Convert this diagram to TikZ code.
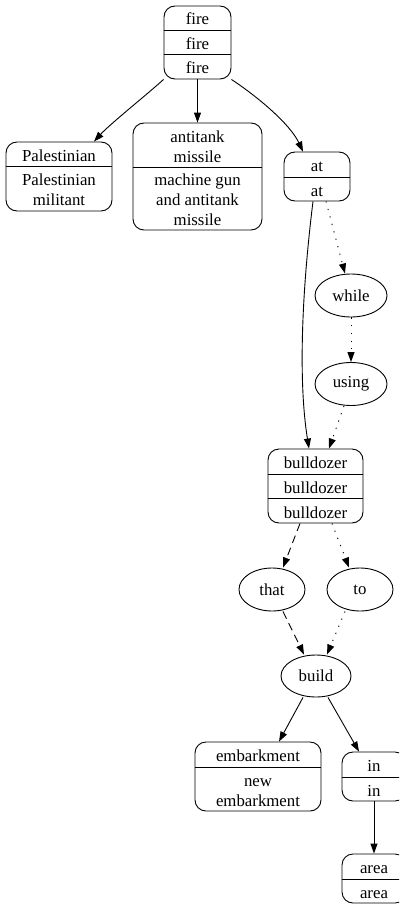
\documentclass[tikz,border=0pt]{standalone}
\usepackage{fontspec}
\setmainfont{Liberation Serif}
\usetikzlibrary{arrows.meta,shapes.geometric}
\begin{document}
\begin{tikzpicture}[x=1pt,y=-1pt,
  rec/.style={draw, rounded corners=11pt, inner sep=0pt, line width=0.9pt},
  ell/.style={draw, ellipse, inner sep=0pt, line width=0.9pt, font=\fontsize{16.8}{20}\selectfont},
  lbl/.style={inner sep=0pt, align=center, text height=15pt, text depth=1pt, font=\fontsize{16.8}{20}\selectfont},
  sep/.style={line width=0.9pt},
  edge/.style={line width=0.9pt, -{Triangle[length=10pt,width=7pt]}},
  dot/.style={edge, dash pattern=on 1.2pt off 6.5pt},
  dsh/.style={edge, dash pattern=on 8pt off 5pt}]
\useasboundingbox (0,0) rectangle (399,907);
\clip (0,0) rectangle (399,907);

% fire
\node[rec, minimum width=67pt, minimum height=73pt] (fire) at (197.5,42.5) {};
\draw[sep] (fire.west |- 0,30) -- (fire.east |- 0,30);
\draw[sep] (fire.west |- 0,54) -- (fire.east |- 0,54);
\node[lbl] (fireA) at (197.5,18) {fire};
\node[lbl] (fireB) at (197.5,42) {fire};
\node[lbl] (fireC) at (197.5,66.5) {fire};

% Palestinian
\node[rec, minimum width=106pt, minimum height=69pt] (pal) at (59,176.5) {};
\draw[sep] (pal.west |- 0,166) -- (pal.east |- 0,166);
\node[lbl] (palA) at (59,154) {Palestinian};
\node[lbl] (palB) at (59,198.5) {Palestinian\\militant};

% antitank missile
\node[rec, minimum width=129pt, minimum height=107pt] (anti) at (197.5,176.5) {};
\draw[sep] (anti.west |- 0,167) -- (anti.east |- 0,167);
\node[lbl] (antiA) at (197.5,155) {antitank\\missile};
\node[lbl] (antiB) at (197.5,218.5) {machine gun\\and antitank\\missile};

% at
\node[rec, minimum width=66pt, minimum height=49pt] (at) at (317,176.5) {};
\draw[sep] (at.west |- 0,177) -- (at.east |- 0,177);
\node[lbl] (atA) at (317,164.5) {at};
\node[lbl] (atB) at (317,189) {at};

% while, using
\node[ell, minimum width=72pt, minimum height=43pt] (while) at (351,295.5) {while};
\node[ell, minimum width=72pt, minimum height=43pt] (using) at (351,384) {using};

% bulldozer
\node[rec, minimum width=95pt, minimum height=74pt] (bull) at (315.5,486) {};
\draw[sep] (bull.west |- 0,474) -- (bull.east |- 0,474);
\draw[sep] (bull.west |- 0,498.5) -- (bull.east |- 0,498.5);
\node[lbl] (bullA) at (315.5,461.5) {bulldozer};
\node[lbl] (bullB) at (315.5,486) {bulldozer};
\node[lbl] (bullC) at (315.5,511) {bulldozer};

% that, to, build
\node[ell, minimum width=66pt, minimum height=43pt] (that) at (272,589.5) {that};
\node[ell, minimum width=66pt, minimum height=43pt] (to) at (360,589.5) {to};
\node[ell, minimum width=70pt, minimum height=42pt] (build) at (316,676) {build};

% embarkment
\node[rec, minimum width=126pt, minimum height=69pt] (emb) at (258,776.5) {};
\draw[sep] (emb.west |- 0,767) -- (emb.east |- 0,767);
\node[lbl] (embA) at (258,754.5) {embarkment};
\node[lbl] (embB) at (258,799) {new\\embarkment};

% in
\node[rec, minimum width=64pt, minimum height=49pt] (in) at (374,776.5) {};
\draw[sep] (in.west |- 0,777) -- (in.east |- 0,777);
\node[lbl] (inA) at (374,764.5) {in};
\node[lbl] (inB) at (374,789) {in};

% area
\node[rec, minimum width=64pt, minimum height=49pt] (area) at (374,878.5) {};
\draw[sep] (area.west |- 0,879) -- (area.east |- 0,879);
\node[lbl] (areaA) at (374,866.5) {area};
\node[lbl] (areaB) at (374,891) {area};

% edges
\draw[edge] (fire.south west) .. controls (150,92) and (110,124) .. ([xshift=35pt]pal.north);
\draw[edge] (fire.south) -- (anti.north);
\draw[edge] (fire.south east) .. controls (258,97) and (290,124) .. ([xshift=-14pt]at.north);
\draw[edge] ([xshift=-4pt]at.south) .. controls (302,290) and (298,380) .. ([xshift=-6.5pt]bull.north);
\draw[dot] ([xshift=9pt]at.south) -- ([xshift=-6pt]while.north);
\draw[dot] (while.south) -- (using.north);
\draw[dot] ([xshift=-7pt]using.south) -- ([xshift=13.5pt]bull.north);
\draw[dsh] ([xshift=-15.5pt]bull.south) -- ([xshift=11pt]that.north);
\draw[dot] ([xshift=16.5pt]bull.south) -- ([xshift=-11pt]to.north);
\draw[dsh] ([xshift=11pt]that.south) -- ([xshift=-12pt]build.north);
\draw[dot] ([xshift=-15pt]to.south) -- ([xshift=11pt]build.north);
\draw[edge] ([xshift=-13pt]build.south) -- ([xshift=21pt]emb.north);
\draw[edge] ([xshift=12pt]build.south) -- ([xshift=-15pt]in.north);
\draw[edge] (in.south) -- (area.north);
\end{tikzpicture}
\end{document}
